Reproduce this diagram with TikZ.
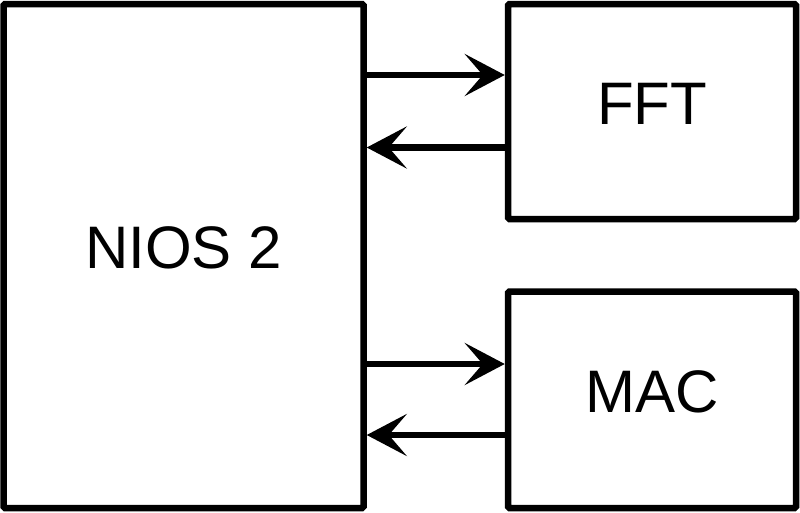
\documentclass[tikz,border=0pt]{standalone}
\usepackage{fontspec}
\setmainfont{Liberation Sans}
\usetikzlibrary{arrows.meta}
\begin{document}
\begin{tikzpicture}[x=1pt,y=-1pt,
  blk/.style={draw, line width=6.5pt, rounded corners=1.5pt, inner sep=0pt,
    font=\fontsize{60}{60}\selectfont, text height=43pt, text depth=18pt},
  arr/.style={line width=6.5pt, -{Stealth[length=40pt,width=42pt,inset=18pt]}}]
\useasboundingbox (0,0) rectangle (800,512);
\node[blk, minimum width=360pt, minimum height=504pt] (nios) at (183.5,256) {NIOS 2};
\node[blk, minimum width=288pt, minimum height=215pt] (fft) at (652,111.5) {FFT};
\node[blk, minimum width=288pt, minimum height=216.5pt] (mac) at (652,399.75) {MAC};
\coordinate (r1) at (0,75);
\coordinate (l1) at (0,147.5);
\coordinate (r2) at (0,364);
\coordinate (l2) at (0,435);
\draw[arr] (nios.east |- r1) -- (fft.west |- r1);
\draw[arr] (fft.west |- l1) -- (nios.east |- l1);
\draw[arr] (nios.east |- r2) -- (mac.west |- r2);
\draw[arr] (mac.west |- l2) -- (nios.east |- l2);
\end{tikzpicture}
\end{document}
